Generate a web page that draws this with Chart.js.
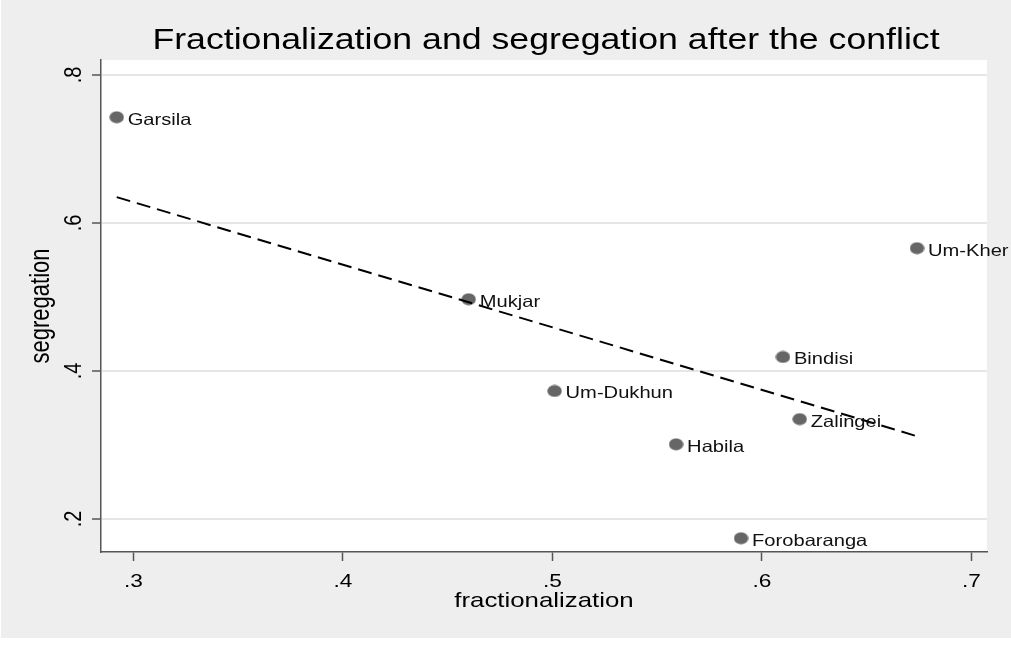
<!DOCTYPE html>
<html>
<head>
<meta charset="utf-8">
<script src="https://cdn.jsdelivr.net/npm/chart.js@4/dist/chart.umd.min.js"></script>
<style>
  html, body { margin: 0; padding: 0; background: #ffffff; }
  #wrap { width: 1011px; height: 647px; }
</style>
</head>
<body>
<div id="wrap"><canvas id="c" width="1011" height="647"></canvas></div>
<script>
// Localities after the conflict
const places = ['Garsila', 'Mukjar', 'Um-Dukhun', 'Habila', 'Forobaranga', 'Bindisi', 'Zalingei', 'Um-Kher'];
const fractionalization = [0.292, 0.460, 0.501, 0.559, 0.590, 0.610, 0.618, 0.674];
const segregation = [0.743, 0.497, 0.373, 0.301, 0.174, 0.419, 0.335, 0.566];

// Linear fit, endpoints
const fitX = [0.292, 0.675];
const fitY = [0.635, 0.311];

// Axis ticks
const xTicks = [0.3, 0.4, 0.5, 0.6, 0.7];
const xTickLabels = ['.3', '.4', '.5', '.6', '.7'];
const yTicks = [0.2, 0.4, 0.6, 0.8];
const yTickLabels = ['.2', '.4', '.6', '.8'];

const FONT = '"Liberation Sans", Arial, sans-serif';
const BG = '#eeeeee';
const AXIS = '#555555';
const MARKER = '#666666';
const WIDE = 1.23;   // horizontal stretch of the lettering

// slightly wide oval marker
function makeMarker() {
  const c = document.createElement('canvas');
  c.width = 15; c.height = 13;
  const g = c.getContext('2d');
  g.fillStyle = MARKER;
  g.beginPath();
  g.ellipse(7.5, 6.5, 7.2, 6.1, 0, 0, Math.PI * 2);
  g.fill();
  return c;
}

// horizontal text with a wide face
function wideText(ctx, str, x, y, size, stretch, align) {
  ctx.save();
  ctx.font = size + 'px ' + FONT;
  ctx.textAlign = align;
  ctx.textBaseline = 'alphabetic';
  ctx.translate(x, y);
  ctx.scale(stretch, 1);
  ctx.fillText(str, 0, 0);
  ctx.restore();
}

// text reading bottom to top, baseline at x
function upText(ctx, str, x, y, size, stretch) {
  ctx.save();
  ctx.font = size + 'px ' + FONT;
  ctx.textAlign = 'center';
  ctx.textBaseline = 'alphabetic';
  ctx.translate(x, y);
  ctx.scale(stretch, 1);
  ctx.rotate(-Math.PI / 2);
  ctx.fillText(str, 0, 0);
  ctx.restore();
}

const backdrop = {
  id: 'backdrop',
  beforeDraw(chart) {
    const { ctx, chartArea: a } = chart;
    ctx.save();
    ctx.fillStyle = '#ffffff';
    ctx.fillRect(0, 0, chart.width, chart.height);
    ctx.fillStyle = BG;
    ctx.fillRect(1, 0, chart.width - 1, 638);
    ctx.fillStyle = '#ffffff';
    ctx.fillRect(a.left, a.top, a.right - a.left, a.bottom - a.top);
    ctx.restore();
  }
};

const decorations = {
  id: 'decorations',
  afterDraw(chart) {
    const { ctx, chartArea: a } = chart;
    const xs = chart.scales.x;
    const ys = chart.scales.y;
    ctx.save();
    ctx.fillStyle = '#000000';
    const mid = (a.left + a.right) / 2;
    // title
    wideText(ctx, 'Fractionalization and segregation after the conflict', mid + 2, 49, 29, WIDE, 'center');
    // x tick labels and title
    xTicks.forEach((v, i) => {
      wideText(ctx, xTickLabels[i], xs.getPixelForValue(v), 587, 18, 1.26, 'center');
    });
    wideText(ctx, 'fractionalization', mid, 607, 21, WIDE, 'center');
    // y tick labels and title
    yTicks.forEach((v, i) => {
      upText(ctx, yTickLabels[i], 81, ys.getPixelForValue(v), 20, WIDE);
    });
    upText(ctx, 'segregation', 49, (a.top + a.bottom) / 2, 22, WIDE);
    // point labels
    const meta = chart.getDatasetMeta(1);
    ctx.fillStyle = '#111111';
    meta.data.forEach((pt, i) => {
      wideText(ctx, places[i], pt.x + 11, pt.y + 7.5, 16.5, 1.22, 'left');
    });
    ctx.restore();
  }
};

new Chart(document.getElementById('c'), {
  type: 'scatter',
  data: {
    datasets: [
      {
        label: 'fit',
        data: fitX.map((x, i) => ({ x, y: fitY[i] })),
        showLine: true,
        borderColor: '#000000',
        borderWidth: 2,
        borderDash: [14, 7],
        pointRadius: 0,
        fill: false
      },
      {
        label: 'segregation',
        data: fractionalization.map((x, i) => ({ x, y: segregation[i] })),
        pointStyle: makeMarker(),
        pointRadius: 6,
        pointHoverRadius: 6,
        backgroundColor: MARKER,
        borderWidth: 0
      }
    ]
  },
  options: {
    responsive: false,
    animation: false,
    devicePixelRatio: 1,
    layout: { padding: { top: 60, right: 24, left: 0, bottom: 0 } },
    plugins: { legend: { display: false }, tooltip: { enabled: false }, title: { display: false } },
    scales: {
      x: {
        type: 'linear',
        min: 0.2845,
        max: 0.7074,
        afterBuildTicks: s => { s.ticks = xTicks.map(v => ({ value: v })); },
        afterFit: s => { s.height = 95; },
        ticks: { display: false },
        grid: { drawOnChartArea: false, drawTicks: true, tickLength: 9, tickColor: AXIS, tickWidth: 1.5 },
        border: { display: true, color: AXIS, width: 1.5 }
      },
      y: {
        type: 'linear',
        min: 0.1554,
        max: 0.8203,
        afterBuildTicks: s => { s.ticks = yTicks.map(v => ({ value: v })); },
        afterFit: s => { s.width = 101; },
        ticks: { display: false },
        grid: { drawOnChartArea: true, color: '#e6e6e6', lineWidth: 2, drawTicks: true, tickLength: 9, tickColor: AXIS, tickWidth: 1.5 },
        border: { display: true, color: AXIS, width: 1.5 }
      }
    }
  },
  plugins: [backdrop, decorations]
});
</script>
</body>
</html>
